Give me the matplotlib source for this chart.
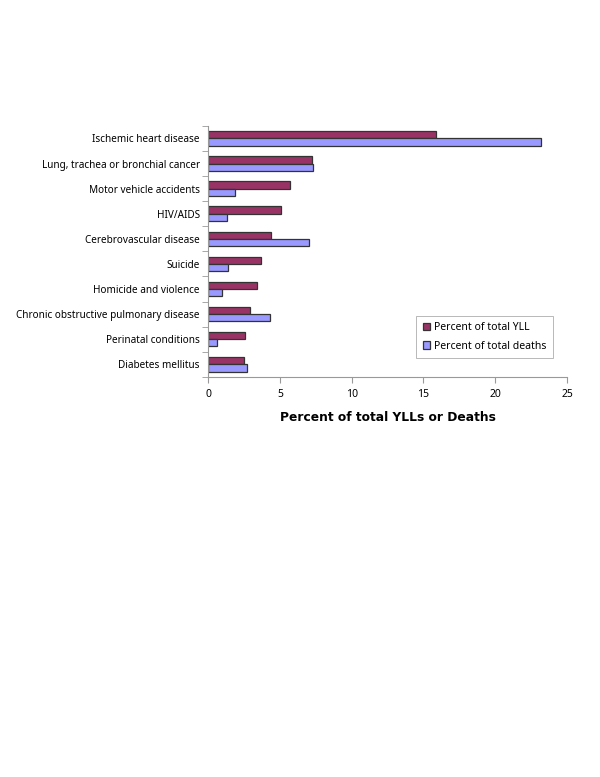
import matplotlib
matplotlib.use("Agg")
import matplotlib.pyplot as plt
import numpy as np

categories = ["Ischemic heart disease", "Lung, trachea or bronchial cancer",
              "Motor vehicle accidents", "HIV/AIDS", "Cerebrovascular disease",
              "Suicide", "Homicide and violence",
              "Chronic obstructive pulmonary disease", "Perinatal conditions",
              "Diabetes mellitus"]
yll = [15.9, 7.2, 5.7, 5.05, 4.35, 3.7, 3.4, 2.9, 2.55, 2.5]
deaths = [23.2, 7.3, 1.85, 1.3, 7.0, 1.4, 0.95, 4.3, 0.6, 2.7]
xticks = [0, 5, 10, 15, 20, 25]

plt.rcParams['font.family'] = ['Noto Sans', 'DejaVu Sans']
fig = plt.figure(figsize=(6.0, 7.77), dpi=100)
ax = fig.add_axes([0.347, 0.515, 0.598, 0.323])

n = len(categories)
pos = np.arange(n)
h = 0.29
ax.barh(pos - h / 2, yll, height=h, color="#993366", edgecolor="#333333",
        linewidth=0.9, label="Percent of total YLL")
ax.barh(pos + h / 2, deaths, height=h, color="#9999FF", edgecolor="#333333",
        linewidth=0.9, label="Percent of total deaths")

ax.set_ylim(n - 0.5, -0.5)
ax.set_xlim(0, 25)
ax.set_xticks(xticks)
ax.set_xticklabels([str(t) for t in xticks], fontsize=7.5)
ax.set_yticks(pos)
ax.set_yticklabels(categories, fontsize=7.2)
ax.tick_params(axis='y', length=0, pad=6)
ax.set_yticks(np.arange(n + 1) - 0.5, minor=True)
ax.tick_params(axis='y', which='minor', length=4, color="#999999", direction='out')
ax.tick_params(axis='x', length=4, color="#999999", direction='out', pad=5)

for s in ["top", "right"]:
    ax.spines[s].set_visible(False)
for s in ["left", "bottom"]:
    ax.spines[s].set_color("#999999")
    ax.spines[s].set_linewidth(0.8)

ax.set_xlabel("Percent of total YLLs or Deaths", fontsize=8.8,
              fontweight='bold', family=['DejaVu Sans'], labelpad=8)

leg = ax.legend(loc="lower right", bbox_to_anchor=(0.975, 0.055), fontsize=7.5,
                frameon=True, fancybox=False, edgecolor="#999999",
                handlelength=0.7, handleheight=0.7, handletextpad=0.4,
                borderpad=0.6, labelspacing=0.7)
leg.get_frame().set_linewidth(0.6)

fig.savefig("out.png", dpi=100)
